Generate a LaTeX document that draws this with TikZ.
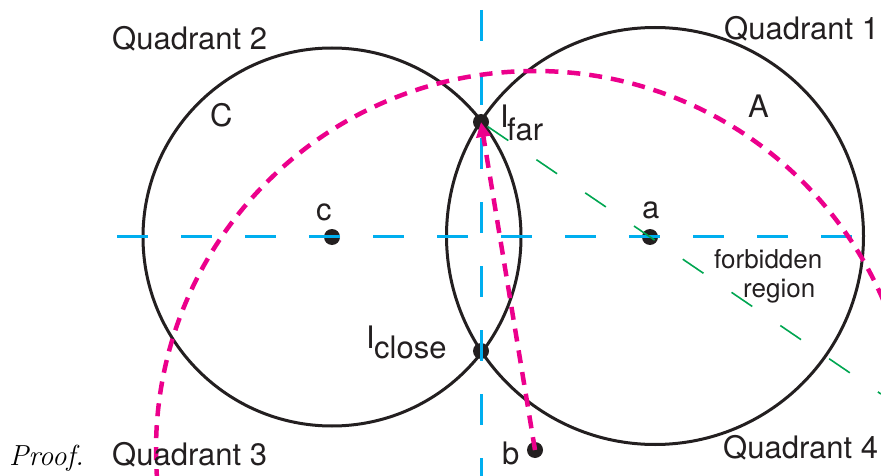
\documentclass[tikz,border=0pt]{standalone}
\usepackage{fontspec}
\newfontfamily\helv{TeX Gyre Heros}
\usetikzlibrary{arrows.meta}
\definecolor{ink}{HTML}{231F20}
\definecolor{cyanl}{HTML}{00AEEF}
\definecolor{mag}{HTML}{EC008C}
\definecolor{grn}{HTML}{00A651}
\begin{document}
\begin{tikzpicture}[x=1pt,y=-1pt,
  lbl/.style={inner sep=0pt, anchor=base west, text=ink, font=\helv\fontsize{31}{36}\selectfont},
  smalllbl/.style={lbl, font=\helv\fontsize{26}{30}\selectfont},
  circ/.style={draw=ink, line width=3pt},
  axisline/.style={draw=cyanl, line width=3pt, dash pattern=on 31pt off 33pt},
  magl/.style={draw=mag, line width=4.5pt, dash pattern=on 13pt off 9pt},
  grnl/.style={draw=grn, line width=1.6pt, dash pattern=on 25pt off 34pt, dash phase=51pt}]
\useasboundingbox (0,0) rectangle (881,476);
\coordinate (c) at (332,237);
\coordinate (a) at (650,237);
\coordinate (Acen) at (655,236);
\coordinate (b) at (535,450);
\coordinate (Ifar) at (481,122);
\coordinate (Iclose) at (481,351);
\coordinate (hL) at (117,236);
\coordinate (hR) at (852,236);
\coordinate (vT) at (481,10);
\coordinate (vB) at (481,480);
\coordinate (gend) at (881,394);
% circles
\draw[circ] (c) circle[radius=189pt];
\draw[circ] (Acen) circle[radius=208.5pt];
% dots
\foreach \p in {c,a,b,Ifar,Iclose} \fill[ink] (\p) circle[radius=8pt];
% axes
\draw[axisline] (hL) -- (hR);
\draw[axisline] (vT) -- (vB);
% green forbidden line
\draw[grnl] (Ifar) -- (gend);
% magenta
\begin{scope}
\clip (0,0) rectangle (881,476);
\draw[magl] (b) circle[radius=379pt];
\end{scope}
\draw[magl, -{Triangle[length=15pt,width=14pt]}] (b) -- (Ifar);
% labels
\node[lbl] (q2) at (112,50) {Quadrant 2};
\node[lbl] (q1) at (724,40) {Quadrant 1};
\node[lbl] (q3) at (112,465) {Quadrant 3};
\node[lbl] (q4) at (723,458) {Quadrant 4};
\node[lbl] (Cl) at (210,127) {C};
\node[lbl] (Al) at (748,118) {A};
\node[lbl] (cl) at (316,220) {c};
\node[lbl] (al) at (642,218) {a};
\node[lbl] (bl) at (502,464) {b};
\node[lbl] (If) at (500,128) {I};
\node[lbl] (far) at (507,141) {far};
\node[lbl] (Ic) at (366,348) {I};
\node[lbl] (close) at (374,358) {close};
\node[smalllbl] (forb) at (714,268) {forbidden};
\node[smalllbl] (reg) at (743,297) {region};
\node[inner sep=0pt, anchor=base west, text=black, font=\fontsize{29}{34}\selectfont\itshape] (proof) at (9,465) {Proof.};
\end{tikzpicture}
\end{document}
